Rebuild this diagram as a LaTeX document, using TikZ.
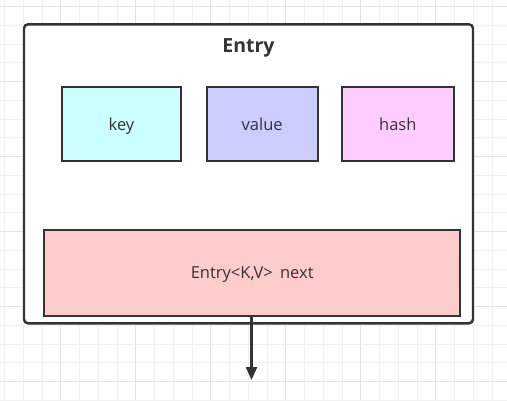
\documentclass[tikz,border=0pt]{standalone}
\usepackage{fontspec}
\setmainfont{Open Sans}
\usetikzlibrary{arrows.meta,positioning}
\definecolor{edge}{HTML}{333333}
\definecolor{keyfill}{HTML}{CCFFFF}
\definecolor{valuefill}{HTML}{CCCCFF}
\definecolor{hashfill}{HTML}{FFCCFF}
\definecolor{nextfill}{HTML}{FFCCCC}
\definecolor{gridminor}{HTML}{F0F0F0}
\definecolor{gridmajor}{HTML}{E2E2E2}

\begin{document}
\begin{tikzpicture}[x=1pt,y=-1pt,
		field/.style={draw=edge, line width=2pt, text=edge, font=\fontsize{16.5}{18}\selectfont, inner sep=0pt, text height=15pt, text depth=3pt},
		holder/.style={draw=edge, line width=2.4pt, rounded corners=4pt, fill=white, inner sep=0pt}]
		\useasboundingbox (0,0) rectangle (507,400);
		% background grid
		\foreach \i in {0,...,27} {
			\pgfmathtruncatemacro{\maj}{mod(\i+1,4)==0}
			\ifnum\maj=1 \def\gc{gridmajor}\else\def\gc{gridminor}\fi
			\draw[\gc, line width=1pt] (4.5+\i*18.75,0) -- (4.5+\i*18.75,400);
		}
		\foreach \j in {0,...,21} {
			\pgfmathtruncatemacro{\maj}{mod(\j,4)==0}
			\ifnum\maj=1 \def\gc{gridmajor}\else\def\gc{gridminor}\fi
			\draw[\gc, line width=1pt] (0,6.7+\j*18.75) -- (507,6.7+\j*18.75);
		}
		
		\node[holder, minimum width=449pt, minimum height=299pt] (entry) at (248.5,173.8) {};
		\node[text=edge, font=\bfseries\fontsize{19.5}{22}\selectfont, anchor=base] (title) at (248.5,52.3) {Entry};
		
		\node[field, fill=keyfill, minimum width=118.5pt, minimum height=73.5pt] (key) at (121.5,124) {key};
		\node[field, fill=valuefill, minimum width=111pt, minimum height=73.5pt] (value) at (262.2,124) {value};
		\node[field, fill=hashfill, minimum width=112.3pt, minimum height=73.5pt] (hash) at (397.8,124) {hash};
		
		\node[field, fill=nextfill, minimum width=415.7pt, minimum height=86pt] (next) at (252.2,272.6) {Entry<K,V>\hspace{3pt} next};
		
		\coordinate (down) at (251.5,380);
		\draw[edge, line width=2.4pt, -{Triangle[length=13pt,width=11pt]}] (next.south -| down) -- (down);
\end{tikzpicture}
\end{document}
